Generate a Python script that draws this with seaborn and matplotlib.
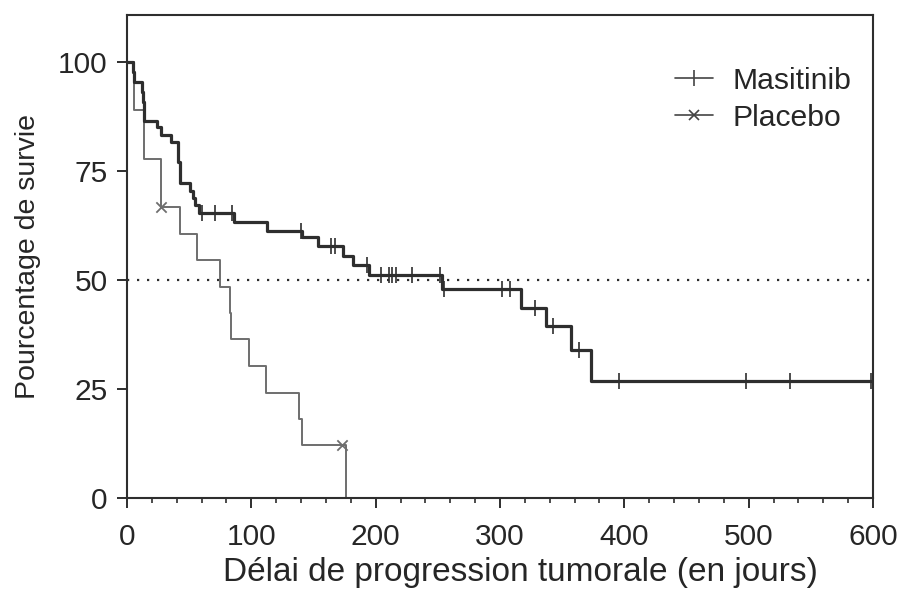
import numpy as np
import pandas as pd
import seaborn as sns
import matplotlib
matplotlib.use("Agg")
import matplotlib.pyplot as plt
from matplotlib.lines import Line2D

# ---- data ----
groups = ["Masitinib", "Placebo"]

masitinib_time = [0, 5, 6, 12, 13, 14, 24, 27, 35, 41, 43, 51, 53, 55, 58, 86, 113,
                  141, 154, 174, 182, 195, 253, 317, 337, 357, 373, 598.6]
masitinib_surv = [100, 97.7, 95.5, 93.2, 90.9, 86.4, 85.2, 83.3, 81.6, 77.0, 72.2,
                  70.5, 68.8, 67.2, 65.3, 63.3, 61.3, 59.8, 57.8, 55.6, 53.4, 51.1,
                  47.9, 43.7, 39.4, 33.9, 26.9, 26.9]
masitinib_censor = [60, 71, 84.5, 140, 164, 167, 193, 204, 210.5, 213.5, 216.5, 229,
                    252, 255, 301.7, 308.4, 328.5, 343, 363.4, 396, 498, 533, 598.6]

placebo_time = [0, 6, 13.5, 27, 43, 56, 75, 82.5, 84, 98, 112, 138, 141, 176]
placebo_surv = [100, 88.9, 77.8, 66.7, 60.6, 54.5, 48.5, 42.4, 36.4, 30.3, 24.2,
                18.2, 12.1, 0]
placebo_censor = [27.5, 173]

x_ticks = [0, 100, 200, 300, 400, 500, 600]
y_ticks = [0, 25, 50, 75, 100]
median_line = 50


def surv_at(times, surv, t):
    idx = np.searchsorted(np.asarray(times), t, side="right") - 1
    return np.asarray(surv)[idx]


curves = pd.concat([
    pd.DataFrame({"t": masitinib_time, "s": masitinib_surv, "g": groups[0]}),
    pd.DataFrame({"t": placebo_time, "s": placebo_surv, "g": groups[1]}),
])
censors_m = pd.DataFrame({"t": masitinib_censor,
                          "s": surv_at(masitinib_time, masitinib_surv, masitinib_censor)})
censors_p = pd.DataFrame({"t": placebo_censor,
                          "s": surv_at(placebo_time, placebo_surv, placebo_censor)})

# ---- style ----
sns.set_theme(style="ticks")
plt.rcParams["font.family"] = ["Liberation Sans", "DejaVu Sans"]
TXT = "#262626"
DARK = "#2e2e2e"
GREY = "#6e6e6e"

fig = plt.figure(figsize=(9.08, 5.92), dpi=100)
ax = fig.add_axes([127 / 908, 1 - 498 / 592, 746 / 908, 483 / 592])

# median reference line
ax.axhline(median_line, color=DARK, lw=1.6, ls=(0, (1, 3.5)), zorder=1)

sns.lineplot(data=curves[curves.g == groups[1]], x="t", y="s", ax=ax,
             estimator=None, sort=False, drawstyle="steps-post",
             color=GREY, lw=1.4, legend=False, zorder=2)
sns.lineplot(data=curves[curves.g == groups[0]], x="t", y="s", ax=ax,
             estimator=None, sort=False, drawstyle="steps-post",
             color=DARK, lw=2.3, legend=False, zorder=3)

sns.scatterplot(data=censors_m, x="t", y="s", ax=ax, marker="|", s=140,
                color=DARK, linewidth=1.2, legend=False, zorder=4)
sns.scatterplot(data=censors_p, x="t", y="s", ax=ax, marker="x", s=55,
                color=GREY, linewidth=1.3, legend=False, zorder=4)

# ---- axes ----
ax.set_xlim(0, 600)
ax.set_ylim(0, 110.8)
ax.set_xticks(x_ticks)
ax.set_xticks(np.arange(0, 601, 20), minor=True)
ax.set_yticks(y_ticks)
ax.tick_params(axis="both", which="major", direction="out", length=7, width=1.4,
               color=DARK, labelsize=21.5, labelcolor=TXT)
ax.tick_params(axis="x", which="major", pad=11)
ax.tick_params(axis="y", which="major", pad=7)
ax.tick_params(axis="x", which="minor", direction="out", length=3.5, width=1.2, color=DARK)
for sp in ax.spines.values():
    sp.set_color(DARK)
    sp.set_linewidth(1.5)

ax.set_xlabel("Délai de progression tumorale (en jours)", fontsize=24, color=TXT,
              labelpad=4)
ax.xaxis.label.set_x(0.527)
ax.set_ylabel("Pourcentage de survie", fontsize=20.5, color=TXT, labelpad=12)

handles = [Line2D([], [], color="#444444", lw=1.2, marker="|", markersize=12,
                  markeredgewidth=1.2),
           Line2D([], [], color="#444444", lw=1.2, marker="x", markersize=7,
                  markeredgewidth=1.2)]
leg = ax.legend(handles, groups, loc="upper left", bbox_to_anchor=(0.735, 0.893),
                frameon=False, fontsize=21.7, handlelength=1.25, handletextpad=0.65,
                labelspacing=0.31, borderpad=0, borderaxespad=0)
for t in leg.get_texts():
    t.set_color(TXT)

fig.savefig("out.png", dpi=100)
